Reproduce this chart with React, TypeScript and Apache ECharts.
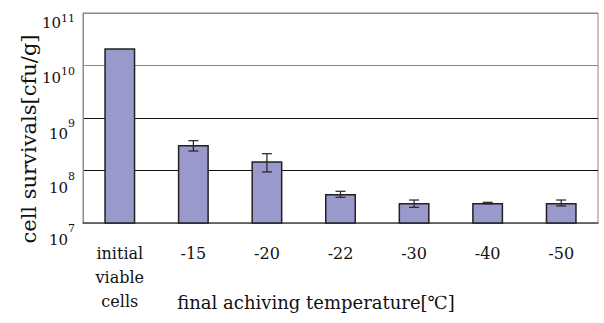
import React, { useEffect, useRef } from "react";
import * as echarts from "echarts";

const categories = ["initial\nviable\ncells", "-15", "-20", "-22", "-30", "-40", "-50"];
const survivals = [2.13e10, 3.06e8, 1.5e8, 3.57e7, 2.4e7, 2.4e7, 2.4e7];
const errLow = [2.13e10, 2.35e8, 9.4e7, 3.09e7, 1.99e7, 2.33e7, 2.11e7];
const errHigh = [2.13e10, 3.7e8, 2.09e8, 4.02e7, 2.74e7, 2.48e7, 2.74e7];
const hasError = [false, true, true, true, true, true, true];
const yExponents = [7, 8, 9, 10, 11];
const yTitle = "cell survivals[cfu/g]";
const xTitle = "final achiving temperature[℃]";

const FONT = "DejaVu Serif";
// label drop below its gridline (px), per exponent
const labelDrop: Record<number, number> = { 7: 17, 8: 17.5, 9: 16, 10: 12.5, 11: 10 };

export default function App() {
  const ref = useRef<HTMLDivElement>(null);
  useEffect(() => {
    if (!ref.current) return;
    const chart = echarts.init(ref.current, undefined, { renderer: "svg" });
    const errData = categories
      .map((_, i) => [i, errLow[i], errHigh[i]])
      .filter((_, i) => hasError[i]);
    const rich: Record<string, any> = {};
    yExponents.forEach((e) => {
      const L = labelDrop[e] * 2;
      rich["b" + e] = { fontFamily: FONT, fontSize: 15, color: "#111", lineHeight: L, verticalAlign: "middle" };
      rich["s" + e] = { fontFamily: FONT, fontSize: 11, color: "#111", lineHeight: L - 7, verticalAlign: "top" };
    });
    chart.setOption({
      animation: false,
      backgroundColor: "#ffffff",
      textStyle: { fontFamily: FONT },
      grid: {
        left: 83,
        right: 6,
        top: 13,
        bottom: 100,
        show: true,
        borderColor: "#8a8a8a",
        borderWidth: 1,
      },
      xAxis: {
        type: "category",
        data: categories,
        axisLine: { lineStyle: { color: "#555", width: 1.5 } },
        axisTick: { inside: true, length: 6, lineStyle: { color: "#555" } },
        axisLabel: {
          margin: 18,
          fontFamily: FONT,
          fontSize: 16,
          lineHeight: 24,
          color: "#111",
        },
      },
      yAxis: {
        type: "log",
        logBase: 10,
        min: 1e7,
        max: 1e11,
        axisLine: { show: true, lineStyle: { color: "#8a8a8a" } },
        axisTick: { show: false },
        splitLine: {
          show: true,
          lineStyle: { color: ["#888", "#111", "#111", "#888", "#888"], width: 1 },
        },
        axisLabel: {
          margin: 8,
          verticalAlign: "top",
          formatter: (v: number) => {
            const e = Math.round(Math.log10(v));
            return `{b${e}|10}{s${e}|${e}}`;
          },
          rich,
        },
      },
      graphic: [
        {
          type: "text",
          x: 29,
          y: 139,
          rotation: Math.PI / 2,
          style: {
            text: yTitle,
            font: `21px "${FONT}"`,
            fill: "#111",
            align: "center",
            verticalAlign: "middle",
          },
        },
        {
          type: "text",
          x: 316,
          y: 302,
          style: {
            text: xTitle,
            font: `18px "${FONT}"`,
            fill: "#111",
            align: "center",
            verticalAlign: "middle",
          },
        },
      ],
      series: [
        {
          type: "bar",
          data: survivals,
          barWidth: 31,
          itemStyle: { color: "#9999cc", borderColor: "#222", borderWidth: 1.5 },
        },
        {
          type: "custom",
          data: errData,
          z: 10,
          renderItem: (params: any, api: any) => {
            const x = api.value(0);
            const lo = api.coord([x, api.value(1)]);
            const hi = api.coord([x, api.value(2)]);
            const hw = 5;
            const st = { stroke: "#222", lineWidth: 1.2 };
            return {
              type: "group",
              children: [
                { type: "line", shape: { x1: lo[0], y1: lo[1], x2: hi[0], y2: hi[1] }, style: st },
                { type: "line", shape: { x1: lo[0] - hw, y1: lo[1], x2: lo[0] + hw, y2: lo[1] }, style: st },
                { type: "line", shape: { x1: hi[0] - hw, y1: hi[1], x2: hi[0] + hw, y2: hi[1] }, style: st },
              ],
            };
          },
        },
      ],
    });
    return () => chart.dispose();
  }, []);
  return (
    <div
      ref={ref}
      style={{ position: "fixed", left: 0, top: 0, width: 604, height: 323, background: "#fff" }}
    />
  );
}
